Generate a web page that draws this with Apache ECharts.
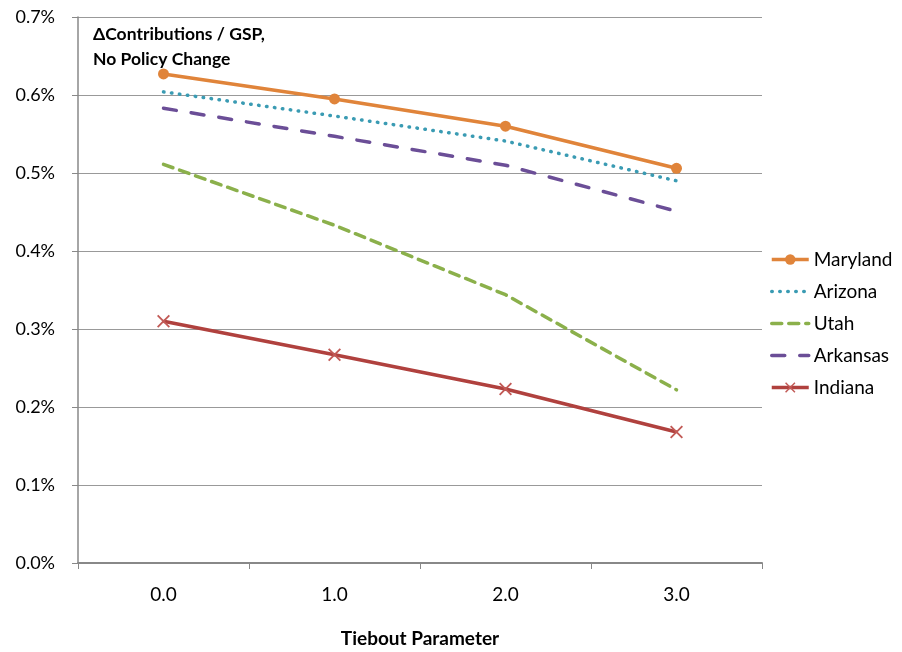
<!DOCTYPE html>
<html>
<head>
<meta charset="utf-8">
<script src="https://cdn.jsdelivr.net/npm/echarts@6/dist/echarts.min.js"></script>
<style>
  html, body { margin: 0; padding: 0; background: #fff; }
  #main { width: 902px; height: 652px; }
</style>
</head>
<body>
<div id="main"></div>
<script>
'use strict';
// 数据
const categories = ['0.0', '1.0', '2.0', '3.0'];
const maryland = [0.627, 0.595, 0.560, 0.506];
const arizona = [0.604, 0.573, 0.541, 0.490];
const utah = [0.511, 0.433, 0.344, 0.222];
const arkansas = [0.583, 0.547, 0.510, 0.451];
const indiana = [0.310, 0.267, 0.223, 0.168];

const FONT = 'Lato, "Open Sans", sans-serif';
const crossPath = 'path://M0,1L1,0L5,4L9,0L10,1L6,5L10,9L9,10L5,6L1,10L0,9L4,5Z';
// 图例中不显示圆点
const noMark = {itemStyle: {opacity: 0}};

let myChart = echarts.init(document.getElementById('main'));
myChart.setOption({
    animation: false,
    textStyle: {fontFamily: FONT},
    title: {
        text: '\u0394Contributions / GSP,\nNo Policy Change',
        left: 88,
        top: 17,
        textStyle: {fontSize: 17.5, fontWeight: 'bold', color: '#000', lineHeight: 25, fontFamily: FONT}
    },
    grid: {left: 78, right: 140, top: 17, bottom: 89, outerBoundsMode: 'none', containLabel: false},
    legend: {
        orient: 'vertical',
        left: 765,
        top: 245,
        itemWidth: 37,
        itemHeight: 13,
        itemGap: 13,
        lineStyle: {width: 3.5},
        textStyle: {fontSize: 19, color: '#000', fontFamily: FONT},
        data: [
            {name: 'Maryland'},
            Object.assign({name: 'Arizona'}, noMark),
            Object.assign({name: 'Utah'}, noMark),
            Object.assign({name: 'Arkansas'}, noMark),
            {name: 'Indiana'}
        ]
    },
    xAxis: {
        type: 'category',
        data: categories,
        boundaryGap: true,
        name: 'Tiebout Parameter',
        nameLocation: 'middle',
        nameGap: 66,
        nameTextStyle: {fontSize: 19, fontWeight: 'bold', color: '#000'},
        axisLine: {lineStyle: {color: '#888', width: 2}},
        axisTick: {show: true, length: 6, lineStyle: {color: '#888'}},
        axisLabel: {fontSize: 19, color: '#000', margin: 22}
    },
    yAxis: {
        type: 'value',
        min: 0,
        max: 0.7,
        interval: 0.1,
        axisLine: {show: true, lineStyle: {color: '#888', width: 1.5}},
        axisTick: {show: true, length: 6, lineStyle: {color: '#888'}},
        axisLabel: {fontSize: 18, color: '#000', margin: 23,
            formatter: v => v.toFixed(1) + '%'},
        splitLine: {lineStyle: {color: '#999', width: 1}}
    },
    series: [
        {
            name: 'Maryland', type: 'line', data: maryland,
            symbol: 'circle', symbolSize: 11,
            itemStyle: {color: '#E0843A'},
            lineStyle: {width: 3.5, color: '#E0843A'}
        },
        {
            name: 'Arizona', type: 'line', data: arizona,
            symbol: 'none',
            itemStyle: {color: '#3A9BB3'},
            lineStyle: {width: 3.5, color: '#3A9BB3', type: [0.5, 7.5], cap: 'round'}
        },
        {
            name: 'Utah', type: 'line', data: utah,
            symbol: 'none',
            itemStyle: {color: '#8BB04B'},
            lineStyle: {width: 3.5, color: '#8BB04B', type: [10, 7], cap: 'round'}
        },
        {
            name: 'Arkansas', type: 'line', data: arkansas,
            symbol: 'none',
            itemStyle: {color: '#6B4E97'},
            lineStyle: {width: 3.5, color: '#6B4E97', type: [13, 15], cap: 'round'}
        },
        {
            name: 'Indiana', type: 'line', data: indiana,
            symbol: crossPath, symbolSize: 13,
            itemStyle: {color: '#C25A56'},
            lineStyle: {width: 3.5, color: '#B0413E'}
        }
    ]
});
</script>
</body>
</html>
